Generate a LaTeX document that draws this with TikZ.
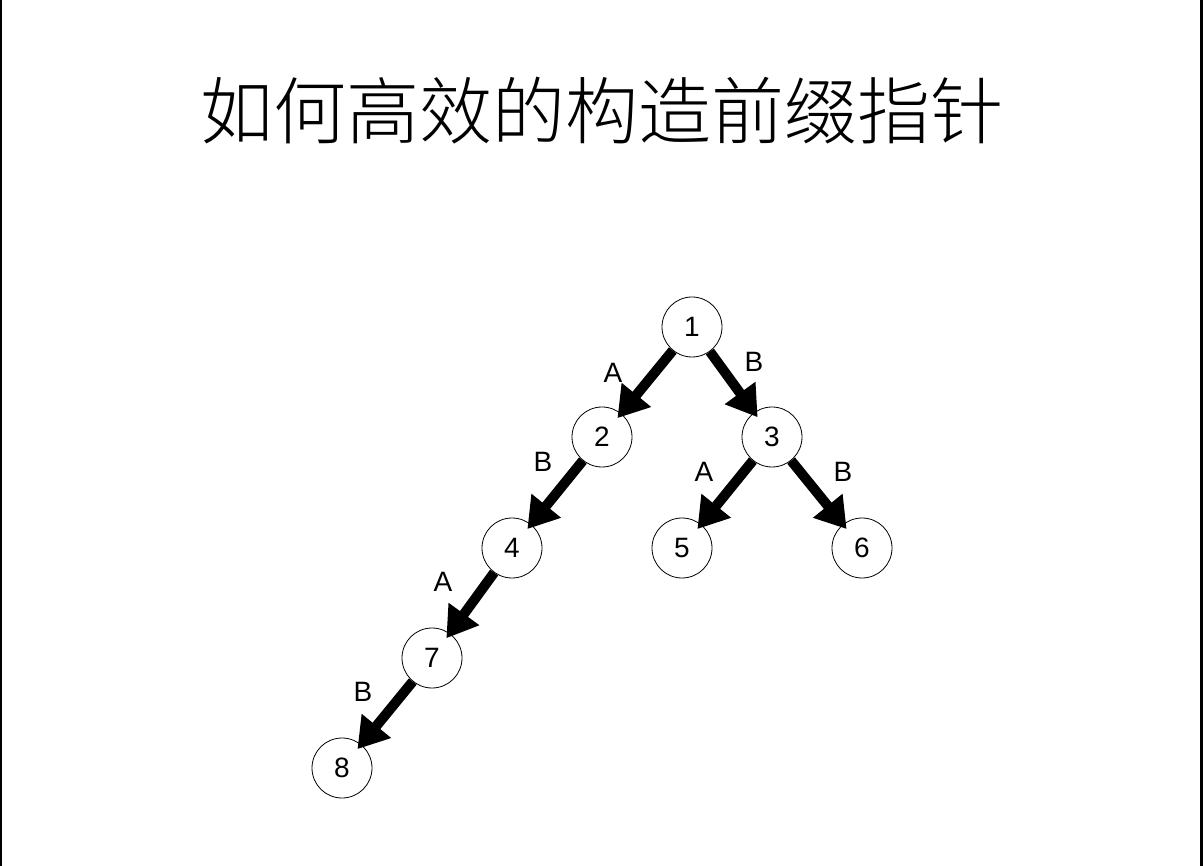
\documentclass[tikz,border=0pt]{standalone}
\usepackage{fontspec}
\setmainfont{Liberation Sans}
\newfontfamily\cjk{Noto Sans CJK SC Light}
\usetikzlibrary{arrows.meta}
\begin{document}
\begin{tikzpicture}[x=1pt,y=-1pt,
  vtx/.style={circle,draw,line width=0.8pt,minimum size=60pt,inner sep=0pt,font=\fontsize{28}{28}\selectfont},
  edge/.style={line width=10pt,-{Triangle[length=30pt,width=36pt]},shorten >=-6pt},
  lbl/.style={font=\fontsize{28}{28}\selectfont}]
\useasboundingbox (0,0) rectangle (1203,866);
\fill[white] (0,0) rectangle (1203,866);
\draw[line width=2.5pt] (1,0) -- (1,866);
\draw[line width=2.5pt] (1201.5,0) -- (1201.5,866);
\node (title) at (602,111) {\cjk\fontsize{73}{73}\selectfont 如何高效的构造前缀指针};
\node[vtx] (n1) at (692,327) {1};
\node[vtx] (n2) at (602,437) {2};
\node[vtx] (n3) at (772,437) {3};
\node[vtx] (n4) at (512,548) {4};
\node[vtx] (n5) at (682,548) {5};
\node[vtx] (n6) at (862,548) {6};
\node[vtx] (n7) at (432,658) {7};
\node[vtx] (n8) at (342,768) {8};
\draw[edge] (n1) -- (n2);
\draw[edge] (n1) -- (n3);
\draw[edge] (n2) -- (n4);
\draw[edge] (n3) -- (n5);
\draw[edge] (n3) -- (n6);
\draw[edge] (n4) -- (n7);
\draw[edge] (n7) -- (n8);
\node[lbl] (l12) at (613,373) {A};
\node[lbl] (l13) at (754,362) {B};
\node[lbl] (l24) at (543,462) {B};
\node[lbl] (l35) at (704,472) {A};
\node[lbl] (l36) at (843,472) {B};
\node[lbl] (l47) at (443,582) {A};
\node[lbl] (l78) at (363,692) {B};
\end{tikzpicture}
\end{document}
